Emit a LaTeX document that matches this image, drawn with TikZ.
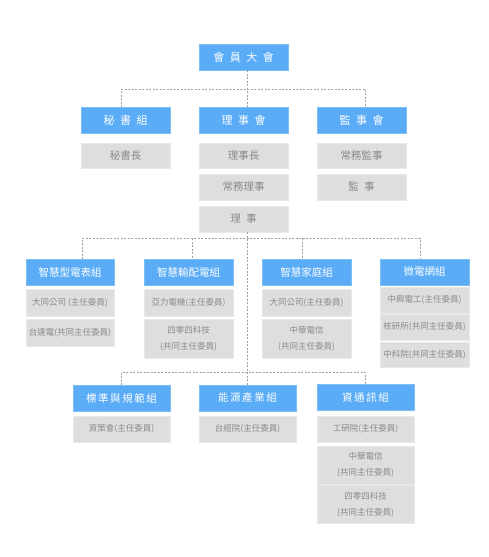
\documentclass[tikz,border=0pt]{standalone}
\usepackage{fontspec}
\setmainfont{Noto Sans CJK TC}
\newfontfamily\widefont[LetterSpace=15]{Noto Sans CJK TC}

\begin{document}
\begin{tikzpicture}[x=1pt,y=-1pt,line cap=rect,
  grp/.style={draw=custcol_7d_be_f5, fill=custcol_5a_ac_f6, line width=0.8pt, text=white, inner sep=0, outer sep=0, minimum height=26, font=\fontsize{11pt}{11pt}\selectfont},
  subgrp/.style={grp, font=\fontsize{10.5pt}{10.5pt}\selectfont},
  widegrp/.style={grp, minimum width=97, font=\fontsize{10.5pt}{10.5pt}\widefont},
  seat/.style={draw=custcol_e9_e9_e9, fill=custcol_de_de_de, line width=0.8pt, text=custcol_8a_8a_8a, inner sep=0, outer sep=0, align=center, minimum height=26, font=\fontsize{10.5pt}{10.5pt}\selectfont},
  member/.style={seat, font=\fontsize{8.5pt}{16pt}\selectfont},
  link/.style={custcol_a0_a0_a0, line width=0.6pt, line cap=butt, dash pattern=on 2pt off 1.5pt}]
\useasboundingbox (0,0) rectangle (488,557);
\def\gp{\hspace{5.5pt}}
\definecolor{custcol_5a_ac_f6}{RGB}{90, 172, 246}
\definecolor{custcol_7d_be_f5}{RGB}{125, 190, 245}
\definecolor{custcol_de_de_de}{RGB}{222, 222, 222}
\definecolor{custcol_e9_e9_e9}{RGB}{233, 233, 233}
\definecolor{custcol_8a_8a_8a}{RGB}{138, 138, 138}
\definecolor{custcol_a0_a0_a0}{RGB}{160, 160, 160}
% top levels
\node[grp, minimum width=89] (assembly) at (243.5,57) {會\gp 員\gp 大\gp 會};
\node[grp, minimum width=89] (secgrp) at (125.5,120) {秘\gp 書\gp 組};
\node[grp, minimum width=89] (board) at (243.5,120) {理\gp 事\gp 會};
\node[grp, minimum width=89] (supv) at (361.5,120) {監\gp 事\gp 會};
\node[seat, minimum width=89, minimum height=25] (secchief) at (125.5,155.5) {秘書長};
\node[seat, minimum width=89, minimum height=25] (chair) at (243.5,155.5) {理事長};
\node[seat, minimum width=89] (stdir) at (243.5,187) {常務理事};
\node[seat, minimum width=89] (dir) at (243.5,219) {理\gp 事};
\node[seat, minimum width=89, minimum height=25] (stsup) at (361.5,155.5) {常務監事};
\node[seat, minimum width=89] (sup) at (361.5,187) {監\gp 事};
% working groups
\node[subgrp, minimum width=88] (meter) at (70,272) {智慧型電表組};
\node[subgrp, minimum width=89] (grid) at (188.5,272) {智慧輸配電組};
\node[subgrp, minimum width=89] (home) at (306.5,272) {智慧家庭組};
\node[subgrp, minimum width=89] (micro) at (424.5,272) {微電網組};
\node[member, minimum width=88, minimum height=27] (meter1) at (70,302.5) {大同公司 (主任委員)};
\node[member, minimum width=88, minimum height=27] (meter2) at (70,332.5) {台達電(共同主任委員)};
\node[member, minimum width=89, minimum height=27] (grid1) at (188.5,302.5) {亞力電機(主任委員)};
\node[member, minimum width=89, minimum height=39] (grid2) at (188.5,338.5) {四零四科技\\(共同主任委員)};
\node[member, minimum width=89, minimum height=27] (home1) at (306.5,302.5) {大同公司(主任委員)};
\node[member, minimum width=89, minimum height=39] (home2) at (306.5,338.5) {中華電信\\(共同主任委員)};
\node[member, minimum width=89] (micro1) at (424.5,300) {中興電工(主任委員)};
\node[member, minimum width=89] (micro2) at (424.5,327) {核研所(共同主任委員)};
\node[member, minimum width=89, minimum height=25] (micro3) at (424.5,354.5) {中科院(共同主任委員)};
\node[widegrp] (std) at (121.5,398) {標準與規範組};
\node[widegrp] (energy) at (247.5,398) {能源產業組};
\node[widegrp] (ict) at (365.5,397.5) {資通訊組};
\node[member, minimum width=97] (std1) at (121.5,429) {資策會(主任委員)};
\node[member, minimum width=97] (energy1) at (247.5,429) {台經院(主任委員)};
\node[member, minimum width=97] (ict1) at (365.5,429) {工研院(主任委員)};
\node[member, minimum width=97, minimum height=38] (ict2) at (365.5,465) {中華電信\\(共同主任委員)};
\node[member, minimum width=97, minimum height=38] (ict3) at (365.5,504.5) {四零四科技\\(共同主任委員)};
% connectors
\coordinate (spine) at (247,0);
\coordinate (dropW) at (121.7,89);
\coordinate (dropE) at (365.7,89);
\coordinate (busW) at (82,238.3);
\coordinate (busE) at (420,238.3);
\coordinate (tapG) at (192,238.3);
\coordinate (tapH) at (302,238.3);
\coordinate (busC) at (0,372.3);
\draw[link] (assembly.south -| spine) -- (spine |- board.north);
\draw[link] (dropW |- secgrp.north) -- (dropW) -- (dropE) -- (dropE |- supv.north);
\draw[link] (dir.south -| spine) -- (spine |- energy.north);
\draw[link] (busW |- meter.north) -- (busW) -- (busE) -- (busE |- micro.north);
\draw[link] (tapG) -- (tapG |- grid.north);
\draw[link] (tapH) -- (tapH |- home.north);
\draw[link] (std.north) -- (std.north |- busC) -- (ict.north |- busC) -- (ict.north);
\end{tikzpicture}
\end{document}
